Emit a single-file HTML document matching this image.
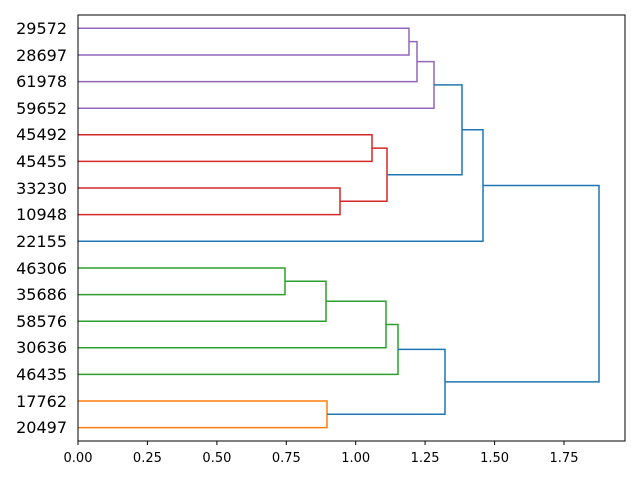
<!DOCTYPE html>
<html><head><style>body{margin:0;background:#fff}svg{display:block}</style></head><body>
<svg width="640" height="480" xmlns="http://www.w3.org/2000/svg" font-family="DejaVu Sans, sans-serif">
<rect width="640" height="480" fill="#fff"/>
<g fill="none" stroke-width="1.5">
<g stroke="#9467bd">
<polyline points="78,28.3 409,28.3 409,55 78,55"/>
<polyline points="409,41.6 417,41.6 417,81.6 78,81.6"/>
<polyline points="417,61.6 434,61.6 434,108.2 78,108.2"/>
</g>
<g stroke="#d62728">
<polyline points="78,134.8 372,134.8 372,161.4 78,161.4"/>
<polyline points="78,188 340,188 340,214.6 78,214.6"/>
<polyline points="372,148.1 387,148.1 387,201.3 340,201.3"/>
</g>
<g stroke="#2ca02c">
<polyline points="78,268 285,268 285,294.6 78,294.6"/>
<polyline points="285,281.3 326,281.3 326,321.2 78,321.2"/>
<polyline points="326,301.2 386,301.2 386,347.8 78,347.8"/>
<polyline points="386,324.5 398,324.5 398,374.4 78,374.4"/>
</g>
<g stroke="#ff7f0e">
<polyline points="78,401 327,401 327,427.6 78,427.6"/>
</g>
<g stroke="#1f77b4">
<polyline points="434,84.9 462,84.9 462,174.7 387,174.7"/>
<polyline points="462,129.8 483,129.8 483,241.3 78,241.3"/>
<polyline points="398,349.4 445,349.4 445,414.3 327,414.3"/>
<polyline points="483,185.5 599,185.5 599,381.9 445,381.9"/>
</g>
</g>
<rect x="78" y="15" width="547" height="426" fill="none" stroke="#000" stroke-width="1"/>
<g stroke="#000" stroke-width="1">
<line x1="78" y1="441" x2="78" y2="445"/><line x1="147.4" y1="441" x2="147.4" y2="445"/>
<line x1="216.9" y1="441" x2="216.9" y2="445"/><line x1="286.3" y1="441" x2="286.3" y2="445"/>
<line x1="355.7" y1="441" x2="355.7" y2="445"/><line x1="425.1" y1="441" x2="425.1" y2="445"/>
<line x1="494.6" y1="441" x2="494.6" y2="445"/><line x1="564" y1="441" x2="564" y2="445"/>
</g>
<g font-size="13" text-anchor="middle" fill="#000">
<text x="78" y="462">0.00</text><text x="147.4" y="462">0.25</text><text x="216.9" y="462">0.50</text>
<text x="286.3" y="462">0.75</text><text x="355.7" y="462">1.00</text><text x="425.1" y="462">1.25</text>
<text x="494.6" y="462">1.50</text><text x="564" y="462">1.75</text>
</g>
<g font-size="16" text-anchor="end" fill="#000">
<text x="67" y="34">29572</text><text x="67" y="61">28697</text><text x="67" y="87">61978</text>
<text x="67" y="114">59652</text><text x="67" y="140">45492</text><text x="67" y="167">45455</text>
<text x="67" y="194">33230</text><text x="67" y="220">10948</text><text x="67" y="247">22155</text>
<text x="67" y="274">46306</text><text x="67" y="300">35686</text><text x="67" y="327">58576</text>
<text x="67" y="353">30636</text><text x="67" y="380">46435</text><text x="67" y="407">17762</text>
<text x="67" y="433">20497</text>
</g>
</svg>
</body></html>
